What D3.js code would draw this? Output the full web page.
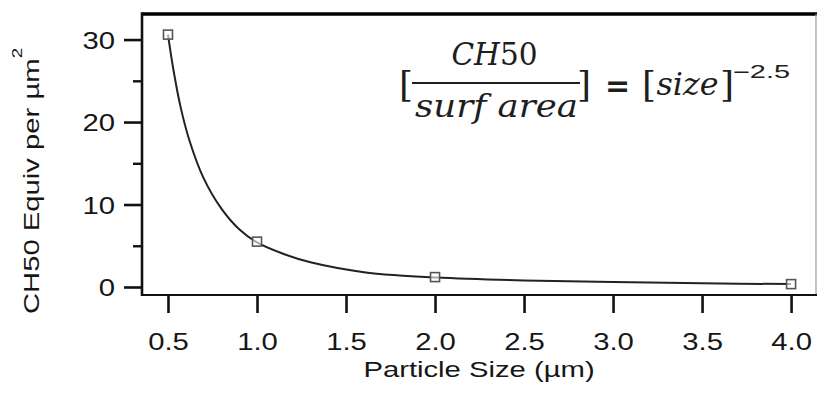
<!DOCTYPE html>
<html>
<head>
<meta charset="utf-8">
<script src="https://cdn.jsdelivr.net/npm/d3@7"></script>
<style>
  html, body { margin: 0; padding: 0; background: #fff; }
  svg { display: block; }
</style>
</head>
<body>
<svg id="chart" width="817" height="399"></svg>
<script>
// ---- data ----
const particleSizes = [0.5, 1.0, 2.0, 4.0];
const ch50PerArea   = [30.6, 5.5, 1.2, 0.35];

// fitted curve
const fitSizes  = [0.5, 0.53, 0.57, 0.62, 0.7, 0.8, 0.9, 1.0, 1.15, 1.3, 1.6, 1.8, 2.0, 2.5, 3.0, 3.5, 4.0];
const fitValues = [30.6, 26.4, 21.9, 17.8, 13.2, 9.5, 7.0, 5.4, 4.0, 3.0, 1.8, 1.4, 1.15, 0.8, 0.6, 0.45, 0.35];

const xTickValues = [0.5, 1.0, 1.5, 2.0, 2.5, 3.0, 3.5, 4.0];
const yTickValues = [0, 10, 20, 30];
const yMinorTickValues = [5, 15, 25];

const xTitle = "Particle Size (\u00b5m)";
const yTitle = "CH50 Equiv per \u00b5m";
const yTitleSup = "2";

// ---- layout ----
const svg = d3.select("#chart");
const plot = { left: 142, right: 816, top: 14, bottom: 295 };
const xDomain = [0.354, 4.14];
const yDomain = [-0.97, 33.1];
const sx = 1.22; // horizontal stretch of the sans text in the reference
const sansFont = "'Liberation Sans', Arial, Helvetica, sans-serif";
const textColor = "#161616";

const x = d3.scaleLinear().domain(xDomain).range([plot.left, plot.right]);
const y = d3.scaleLinear().domain(yDomain).range([plot.bottom, plot.top]);

// ---- frame ----
svg.append("line").attr("x1", plot.left).attr("x2", plot.right + 1).attr("y1", plot.top).attr("y2", plot.top)
  .attr("stroke", "#000").attr("stroke-width", 3.5);
svg.append("line").attr("x1", plot.right).attr("x2", plot.right).attr("y1", plot.top).attr("y2", plot.bottom)
  .attr("stroke", "#9a9a9a").attr("stroke-width", 1.2);
svg.append("line").attr("x1", plot.left).attr("x2", plot.right + 1).attr("y1", plot.bottom).attr("y2", plot.bottom)
  .attr("stroke", "#111").attr("stroke-width", 2.2);
svg.append("line").attr("x1", plot.left).attr("x2", plot.left).attr("y1", plot.top - 1.7).attr("y2", plot.bottom + 1.1)
  .attr("stroke", "#111").attr("stroke-width", 2.6);

// ---- y axis ----
const yAxis = d3.axisLeft(y).tickValues(yTickValues).tickSizeInner(18).tickSizeOuter(0).tickPadding(0)
  .tickFormat(d3.format("d"));
const gy = svg.append("g").attr("transform", `translate(${plot.left},0)`).call(yAxis);
gy.select(".domain").remove();
gy.selectAll(".tick line").attr("stroke", "#111").attr("stroke-width", 2.6);
gy.selectAll(".tick text")
  .attr("x", -27 / sx).attr("dy", 8.7)
  .attr("transform", `scale(${sx},1)`)
  .attr("font-family", sansFont).attr("font-size", 24).attr("fill", textColor);

const yMinor = d3.axisLeft(y).tickValues(yMinorTickValues).tickSizeInner(9).tickSizeOuter(0).tickFormat("");
const gym = svg.append("g").attr("transform", `translate(${plot.left},0)`).call(yMinor);
gym.select(".domain").remove();
gym.selectAll(".tick line").attr("stroke", "#111").attr("stroke-width", 2.4);

// ---- x axis ----
const xAxis = d3.axisBottom(x).tickValues(xTickValues).tickSizeInner(17).tickSizeOuter(0)
  .tickFormat(d3.format(".1f"));
const gx = svg.append("g").attr("transform", `translate(0,${plot.bottom + 1})`).call(xAxis);
gx.select(".domain").remove();
gx.selectAll(".tick line").attr("stroke", "#111").attr("stroke-width", 2.6);
gx.selectAll(".tick text")
  .attr("y", 54.5).attr("dy", 0)
  .attr("transform", `scale(${sx},1)`)
  .attr("font-family", sansFont).attr("font-size", 24).attr("fill", textColor);

// ---- axis titles ----
svg.append("text")
  .attr("transform", `translate(${(plot.left + plot.right) / 2},376.5) scale(1.3,1)`)
  .attr("text-anchor", "middle")
  .attr("font-family", sansFont).attr("font-size", 22.5).attr("fill", textColor)
  .text(xTitle);

const yt = svg.append("text")
  .attr("transform", `translate(39,314) rotate(-90) scale(1.3,1)`)
  .attr("text-anchor", "start")
  .attr("font-family", sansFont).attr("font-size", 22.5).attr("fill", textColor);
yt.append("tspan").text(yTitle);
yt.append("tspan").attr("dy", -17).attr("font-size", 14.5).text(yTitleSup);

// ---- fitted curve ----
const fitData = fitSizes.map((s, i) => ({ s, v: fitValues[i] }));
svg.append("path")
  .datum(fitData)
  .attr("fill", "none")
  .attr("stroke", "#222")
  .attr("stroke-width", 2)
  .attr("d", d3.line().x(d => x(d.s)).y(d => y(d.v)).curve(d3.curveCatmullRom.alpha(0.5)));

// ---- data markers ----
const pts = particleSizes.map((s, i) => ({ s, v: ch50PerArea[i] }));
const msize = 9;
svg.selectAll("rect.pt").data(pts).enter().append("rect")
  .attr("class", "pt")
  .attr("x", d => x(d.s) - msize / 2)
  .attr("y", d => y(d.v) - msize / 2)
  .attr("width", msize).attr("height", msize)
  .attr("fill", "#fff").attr("fill-opacity", 0.6)
  .attr("stroke", "#555").attr("stroke-width", 1.6);

// ---- formula annotation ----
const serif = "'DejaVu Serif', serif";
const f = svg.append("g").attr("fill", "#1e1e1e");
f.append("text").attr("x", 399).attr("y", 97).attr("font-family", serif).attr("font-size", 36).text("[");
f.append("text").attr("x", 577).attr("y", 97).attr("font-family", serif).attr("font-size", 36).text("]");
const num = f.append("text").attr("x", 494.5).attr("y", 65).attr("text-anchor", "middle")
  .attr("font-family", serif).attr("font-size", 31.5)
  .attr("textLength", 86).attr("lengthAdjust", "spacingAndGlyphs");
num.append("tspan").attr("font-style", "italic").text("CH");
num.append("tspan").text("50");
f.append("line").attr("x1", 412).attr("x2", 580).attr("y1", 83).attr("y2", 83)
  .attr("stroke", "#1e1e1e").attr("stroke-width", 1.8);
f.append("text").attr("x", 496.5).attr("y", 117).attr("text-anchor", "middle")
  .attr("font-family", serif).attr("font-style", "italic").attr("font-size", 32)
  .attr("textLength", 163).attr("lengthAdjust", "spacingAndGlyphs")
  .text("surf area");
f.append("text").attr("x", 617.5).attr("y", 96).attr("text-anchor", "middle")
  .attr("font-family", "'DejaVu Sans', sans-serif").attr("font-weight", "bold").attr("font-size", 30)
  .text("=");
f.append("text").attr("x", 642).attr("y", 97).attr("font-family", serif).attr("font-size", 36).text("[");
f.append("text").attr("x", 687.5).attr("y", 95).attr("text-anchor", "middle")
  .attr("font-family", serif).attr("font-style", "italic").attr("font-size", 32)
  .attr("textLength", 62).attr("lengthAdjust", "spacingAndGlyphs")
  .text("size");
f.append("text").attr("x", 720).attr("y", 97).attr("font-family", serif).attr("font-size", 36).text("]");
f.append("text").attr("x", 733).attr("y", 78)
  .attr("font-family", sansFont).attr("font-size", 18)
  .attr("textLength", 57).attr("lengthAdjust", "spacingAndGlyphs")
  .text("\u22122.5");
</script>
</body>
</html>
